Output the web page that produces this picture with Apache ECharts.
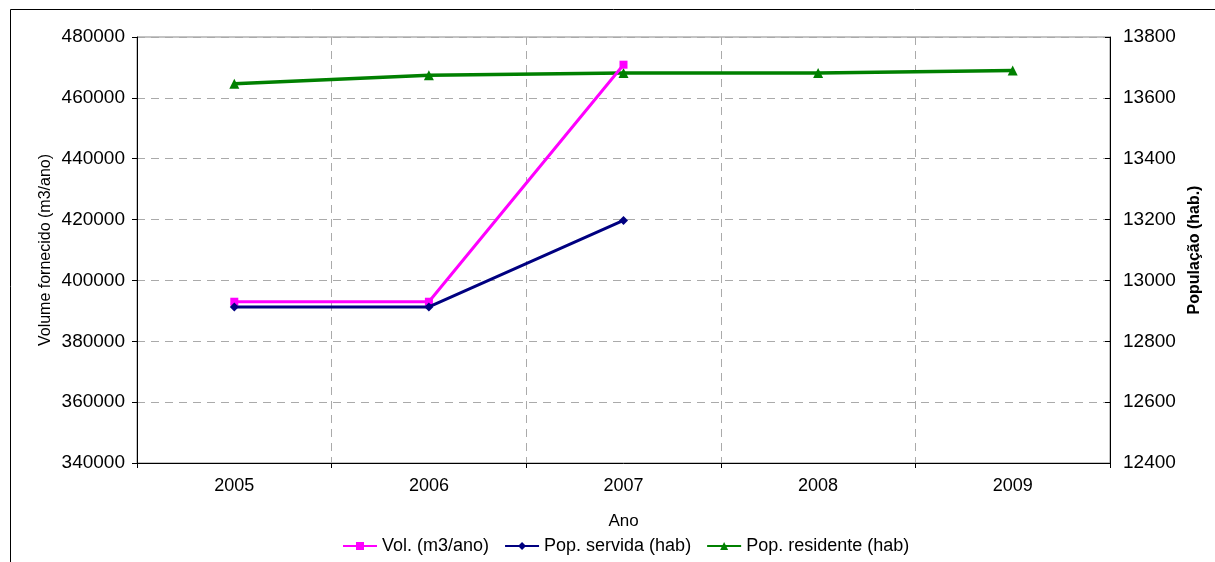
<!DOCTYPE html>
<html>
<head>
<meta charset="utf-8">
<script src="https://cdn.jsdelivr.net/npm/echarts@6/dist/echarts.min.js"></script>
<style>
  html, body { margin: 0; padding: 0; background: #fff; }
  #chart { width: 1215px; height: 562px; }
</style>
</head>
<body>
<div id="chart"></div>
<script>
// Water supplied vs. population, 2005–2009
const years = ['2005', '2006', '2007', '2008', '2009'];
const volumeSupplied = [393000, 393000, 470900, null, null];      // m3/ano (left axis)
const popServed = [12913, 12913, 13197, null, null];              // hab (right axis)
const popResident = [13646, 13674, 13682, 13682, 13690];          // hab (right axis)

const leftTicks = { min: 340000, max: 480000, interval: 20000 };
const rightTicks = { min: 12400, max: 13800, interval: 200 };

const FONT = '"Liberation Sans", Arial, sans-serif';
const plain = v => String(v);   // no thousands separators
const chart = echarts.init(document.getElementById('chart'), null, { renderer: 'canvas' });

chart.setOption({
  animation: false,
  backgroundColor: '#fff',
  textStyle: { fontFamily: FONT, color: '#000' },
  graphic: [{
    type: 'rect',
    shape: { x: 10.5, y: 9.5, width: 1300, height: 700 },
    style: { fill: null, stroke: '#000', lineWidth: 1 },
    silent: true, z: -10
  }],
  grid: {
    left: 137, right: 105, top: 37, bottom: 99,
    show: true, borderColor: '#888', borderWidth: 1
  },
  legend: {
    bottom: 2, left: 337,
    itemWidth: 34, itemHeight: 10, itemGap: 15,
    textStyle: { fontFamily: FONT, fontSize: 18, color: '#000' },
    data: ['Vol. (m3/ano)', 'Pop. servida (hab)', 'Pop. residente (hab)']
  },
  xAxis: {
    type: 'category',
    data: years,
    boundaryGap: true,
    name: 'Ano',
    nameLocation: 'middle',
    nameGap: 50,
    nameTextStyle: { fontFamily: FONT, fontSize: 17, color: '#000' },
    axisLine: { lineStyle: { color: '#000', width: 1 } },
    axisTick: { show: true, length: 5, lineStyle: { color: '#000' } },
    axisLabel: { fontFamily: FONT, fontSize: 18, color: '#000', margin: 14 },
    splitLine: { show: true, lineStyle: { color: '#aaa', type: [8, 6], width: 1 } }
  },
  yAxis: [{
    type: 'value',
    position: 'left',
    min: leftTicks.min, max: leftTicks.max, interval: leftTicks.interval,
    name: 'Volume fornecido (m3/ano)',
    nameLocation: 'middle',
    nameGap: 83,
    nameMoveOverlap: false,
    nameTextStyle: { fontFamily: FONT, fontSize: 16, color: '#000' },
    axisLine: { show: true, lineStyle: { color: '#000', width: 1 } },
    axisTick: { show: true, length: 5, lineStyle: { color: '#000' } },
    axisLabel: { fontFamily: FONT, fontSize: 19, color: '#000', margin: 12, formatter: plain },
    splitLine: { show: true, lineStyle: { color: '#aaa', type: [8, 6], width: 1 } }
  }, {
    type: 'value',
    position: 'right',
    min: rightTicks.min, max: rightTicks.max, interval: rightTicks.interval,
    name: 'População (hab.)',
    nameLocation: 'middle',
    nameGap: 75,
    nameRotate: 90,
    nameTextStyle: { fontFamily: FONT, fontSize: 16, fontWeight: 'bold', color: '#000' },
    axisLine: { show: true, lineStyle: { color: '#000', width: 1 } },
    axisTick: { show: true, inside: true, length: 5, lineStyle: { color: '#000' } },
    axisLabel: { fontFamily: FONT, fontSize: 19, color: '#000', margin: 13, formatter: plain },
    splitLine: { show: false }
  }],
  series: [{
    name: 'Vol. (m3/ano)',
    type: 'line',
    yAxisIndex: 0,
    data: volumeSupplied,
    color: '#FF00FF',
    symbol: 'rect', symbolSize: 8,
    lineStyle: { width: 3 },
    z: 3
  }, {
    name: 'Pop. servida (hab)',
    type: 'line',
    yAxisIndex: 1,
    data: popServed,
    color: '#000080',
    symbol: 'diamond', symbolSize: 9,
    lineStyle: { width: 3 },
    z: 4
  }, {
    name: 'Pop. residente (hab)',
    type: 'line',
    yAxisIndex: 1,
    data: popResident,
    color: '#008000',
    symbol: 'triangle', symbolSize: 10,
    lineStyle: { width: 3.5 },
    z: 2
  }]
});
</script>
</body>
</html>
